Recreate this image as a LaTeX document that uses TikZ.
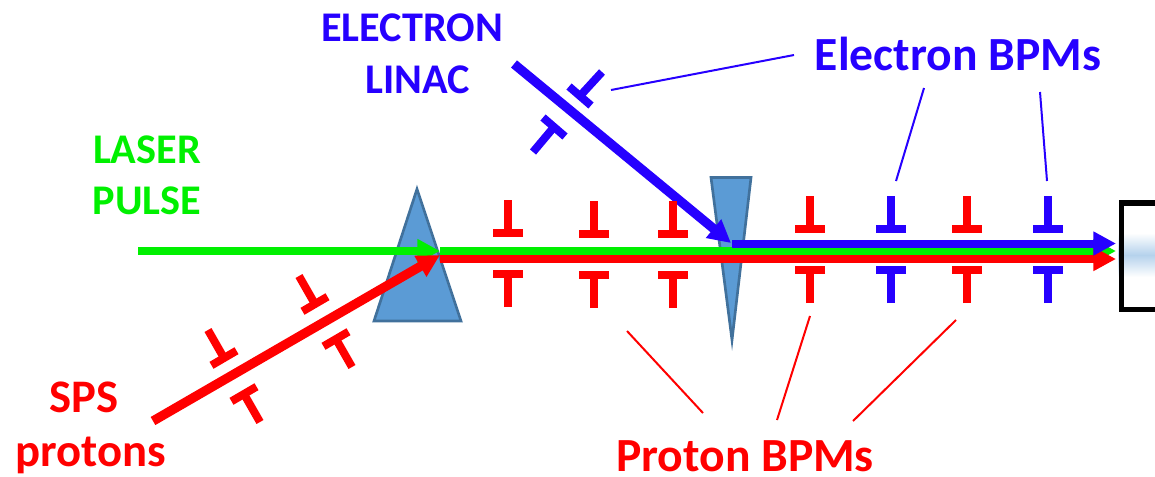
\documentclass[tikz,border=0pt]{standalone}
\usepackage{fontspec}
\setmainfont{Carlito}
\usetikzlibrary{arrows.meta,calc}
\definecolor{rd}{RGB}{255,0,0}
\definecolor{bl}{RGB}{38,0,255}
\definecolor{gr}{RGB}{0,240,0}
\definecolor{prismfill}{RGB}{91,155,213}
\definecolor{prismedge}{RGB}{65,113,156}
\tikzset{
  beam/.style={line width=6pt,-{Triangle[length=17pt,width=17pt]}},
  diagbeam/.style={line width=7pt,-{Triangle[length=17pt,width=17pt]}},
  bpmline/.style={line width=6pt},
  bpmbar/.style={line width=6pt},
  leader/.style={line width=1.5pt},
  prism/.style={fill=prismfill,draw=prismedge,line width=2pt,line join=miter},
  lab/.style={font=\bfseries\fontsize{31.7pt}{32pt}\selectfont,inner sep=0pt,anchor=base},
  spslab/.style={font=\bfseries\fontsize{35pt}{35pt}\selectfont,inner sep=0pt,anchor=base},
  biglab/.style={font=\bfseries\fontsize{35.7pt}{36pt}\selectfont,inner sep=0pt,anchor=base},
}
% #1 colour, #2 stem end, #3 bar centre, #4 half-bar direction
\newcommand{\bpmmark}[4]{%
  \draw[bpmline,#1] (#2) -- (#3);
  \draw[bpmbar,#1] ($(#3)+(#4)$) -- ($(#3)-(#4)$);
}
\begin{document}
\begin{tikzpicture}[x=0.75pt,y=-0.75pt]
\useasboundingbox (0,0) rectangle (1155,476);
% target box
\begin{scope}
\clip (0,0) rectangle (1155,476);
\shade[top color=white,bottom color=white,middle color=prismfill!45] (1118,233) rectangle (1160,277);
\node[draw=black,line width=4.2pt,minimum width=70pt,minimum height=80pt,inner sep=0pt,anchor=north west] (target) at (1118.8,200) {};
\end{scope}
% prisms
\draw[prism] (417,189) -- (461,321) -- (374,321) -- cycle;
\draw[prism] (711,177.5) -- (751,177.5) -- (732,340) -- cycle;
% named beam points
\coordinate (laserstart) at (138,251);
\coordinate (merge) at (440,251);
\coordinate (greenend) at (1116,251);
\coordinate (redstart) at (440,259);
\coordinate (redend) at (1116,259);
\coordinate (spsstart) at (153,421);
\coordinate (spsend) at (440,255);
\coordinate (linacstart) at (514,64);
\coordinate (linacend) at (731,243);
\coordinate (bluestart) at (732,243.5);
\coordinate (blueend) at (1116,243.5);
% beams
\draw[beam,gr] (laserstart) -- (merge);
\draw[beam,gr] (merge) -- (greenend);
\draw[diagbeam,rd] (spsstart) -- (spsend);
\draw[beam,rd] (redstart) -- (redend);
\draw[diagbeam,bl] (linacstart) -- (linacend);
\draw[beam,bl] (bluestart) -- (blueend);
% straight section BPMs
\bpmmark{rd}{508,200}{508,233}{15,0}
\bpmmark{rd}{508,307}{508,274}{15,0}
\bpmmark{rd}{594,201}{594,234}{15,0}
\bpmmark{rd}{594,308}{594,275}{15,0}
\bpmmark{rd}{673,201}{673,234}{15,0}
\bpmmark{rd}{673,308}{673,275}{15,0}
\bpmmark{rd}{810,196}{810,229}{15,0}
\bpmmark{rd}{810,303}{810,270}{15,0}
\bpmmark{bl}{891,196}{891,229}{15,0}
\bpmmark{bl}{891,303}{891,270}{15,0}
\bpmmark{rd}{967,196}{967,229}{15,0}
\bpmmark{rd}{967,303}{967,270}{15,0}
\bpmmark{bl}{1048,196}{1048,229}{15,0}
\bpmmark{bl}{1048,303}{1048,270}{15,0}
% proton line BPMs
\bpmmark{rd}{208,330}{224,358}{12.5,-7.3}
\bpmmark{rd}{260,422}{244,394}{12.5,-7.3}
\bpmmark{rd}{299,276}{315,304}{12.5,-7.3}
\bpmmark{rd}{352,367}{336,339}{12.5,-7.3}
% electron line BPMs
\bpmmark{bl}{602,72}{580,96}{11,9.5}
\bpmmark{bl}{533,152}{554,127}{11,9.5}
% labels
\node[lab,text=bl] (elec) at (412,41) {ELECTRON};
\node[lab,text=bl] (linac) at (418,93) {LINAC};
\node[lab,text=gr] (laser) at (147,163) {LASER};
\node[lab,text=gr] (pulse) at (147,214) {PULSE};
\node[spslab,text=rd] (sps) at (84,412) {SPS};
\node[spslab,text=rd] (protons) at (91,466) {protons};
\node[biglab,text=bl] (ebpm) at (958,70) {Electron BPMs};
\node[biglab,text=rd] (pbpm) at (745,471) {Proton BPMs};
% leaders
\coordinate (e1a) at (794,55); \coordinate (e1b) at (611,90);
\coordinate (e2a) at (924,88); \coordinate (e2b) at (896,181);
\coordinate (e3a) at (1040,92); \coordinate (e3b) at (1047,181);
\coordinate (p1a) at (703,413); \coordinate (p1b) at (627,331);
\coordinate (p2a) at (777,420); \coordinate (p2b) at (810,316);
\coordinate (p3a) at (853,421); \coordinate (p3b) at (956,320);
\draw[leader,bl] (e1a) -- (e1b);
\draw[leader,bl] (e2a) -- (e2b);
\draw[leader,bl] (e3a) -- (e3b);
\draw[leader,rd] (p1a) -- (p1b);
\draw[leader,rd] (p2a) -- (p2b);
\draw[leader,rd] (p3a) -- (p3b);
\end{tikzpicture}
\end{document}
